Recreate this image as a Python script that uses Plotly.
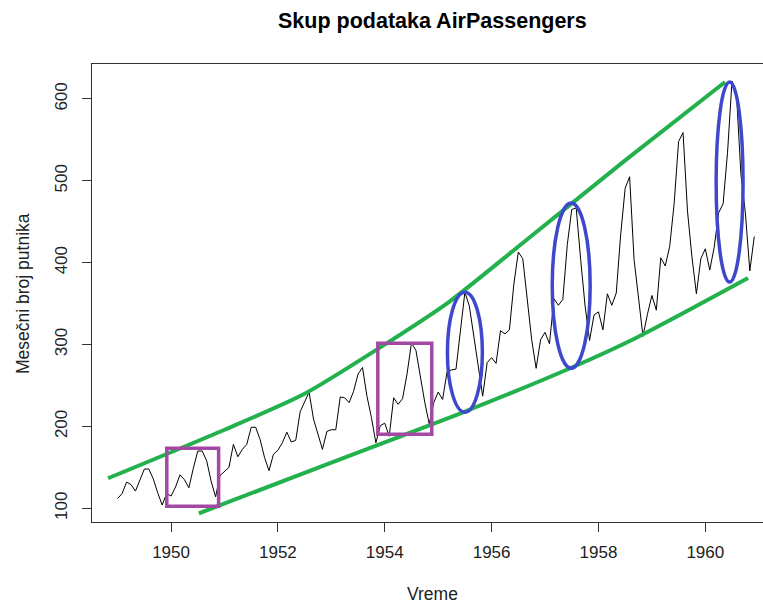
import plotly.graph_objects as go

# Monthly international airline passengers (thousands), 1949-1960
passengers = [
    112, 118, 132, 129, 121, 135, 148, 148, 136, 119, 104, 118,
    115, 126, 141, 135, 125, 149, 170, 170, 158, 133, 114, 140,
    145, 150, 178, 163, 172, 178, 199, 199, 184, 162, 146, 166,
    171, 180, 193, 181, 183, 218, 230, 242, 209, 191, 172, 194,
    196, 196, 236, 235, 229, 243, 264, 272, 237, 211, 180, 201,
    204, 188, 235, 227, 234, 264, 302, 293, 259, 229, 203, 229,
    242, 233, 267, 269, 270, 315, 364, 347, 312, 274, 237, 278,
    284, 277, 317, 313, 318, 374, 413, 405, 355, 306, 271, 306,
    315, 301, 356, 348, 355, 422, 465, 467, 404, 347, 305, 336,
    340, 318, 362, 348, 363, 435, 491, 505, 404, 359, 310, 337,
    360, 342, 406, 396, 420, 472, 548, 559, 463, 407, 362, 405,
    417, 391, 419, 461, 472, 535, 622, 606, 508, 461, 390, 432,
]
start_year = 1949
time = [start_year + i / 12 for i in range(len(passengers))]

# Hand-drawn envelope (trend channel) lines
upper_x = [1948.82, 1951.0, 1952.5, 1953.9, 1955.2, 1956.6, 1958.5, 1960.37]
upper_y = [136.7, 196.0, 240.0, 296.0, 352.0, 425.0, 525.0, 620.8]
lower_x = [1950.52, 1953.0, 1955.42, 1957.47, 1958.73, 1960.8]
lower_y = [93.9, 155.7, 216.1, 271.1, 309.0, 381.2]

# Highlight boxes (x0, x1, y0, y1)
box_x0 = [1949.92, 1953.87]
box_x1 = [1950.89, 1954.88]
box_y0 = [102.4, 190.5]
box_y1 = [173.3, 301.7]

# Highlighted peaks: ellipse centres and half-widths
ell_cx = [1955.50, 1957.49, 1960.455]
ell_cy = [290.7, 372.0, 498.5]
ell_rx = [0.327, 0.355, 0.252]
ell_ry = [73.3, 100.9, 122.2]

x_ticks = [1950, 1952, 1954, 1956, 1958, 1960]
y_ticks = [100, 200, 300, 400, 500, 600]

GREEN = "#22B14C"
PURPLE = "#A349A4"
BLUE = "#3F48CC"
FONT = "Liberation Sans, Arial, sans-serif"

# plot-area geometry in pixels (used to place the free text)
W, H = 763, 606
L, T, B = 92, 64, 84
PW, PH = W - L, H - T - B


def px_x(x):
    return (x - L) / PW


def px_y(y):
    return (H - B - y) / PH


fig = go.Figure()
fig.add_trace(go.Scatter(x=time, y=passengers, mode="lines",
                         line=dict(color="black", width=1)))
for xs, ys in ((upper_x, upper_y), (lower_x, lower_y)):
    fig.add_trace(go.Scatter(x=xs, y=ys, mode="lines",
                             line=dict(color=GREEN, width=4, shape="spline", smoothing=0.7)))

shapes = []
for x0, x1, y0, y1 in zip(box_x0, box_x1, box_y0, box_y1):
    shapes.append(dict(type="rect", xref="x", yref="y", x0=x0, x1=x1, y0=y0, y1=y1,
                       line=dict(color=PURPLE, width=3.5)))
for cx, cy, rx, ry in zip(ell_cx, ell_cy, ell_rx, ell_ry):
    shapes.append(dict(type="circle", xref="x", yref="y",
                       x0=cx - rx, x1=cx + rx, y0=cy - ry, y1=cy + ry,
                       line=dict(color=BLUE, width=3.5)))

fig.update_layout(
    width=W, height=H,
    margin=dict(l=L, r=0, t=T, b=B),
    paper_bgcolor="white", plot_bgcolor="white",
    showlegend=False,
    font=dict(family=FONT, size=17, color="#222"),
    shapes=shapes,
    xaxis=dict(range=[1948.52, 1961.08], tickvals=x_ticks,
               ticktext=[str(v) for v in x_ticks],
               showgrid=False, zeroline=False,
               showline=True, linecolor="#333", linewidth=1, mirror=True,
               ticks="outside", ticklen=9, tickcolor="#333",
               ticklabelstandoff=6),
    yaxis=dict(range=[83.28, 642.72], tickvals=y_ticks,
               ticktext=[str(v) for v in y_ticks],
               showgrid=False, zeroline=False,
               showline=True, linecolor="#333", linewidth=1,
               ticks="outside", ticklen=9, tickcolor="#333",
               tickangle=-90, ticklabelstandoff=8),
    annotations=[
        dict(text="<b>Skup podataka AirPassengers</b>", xref="paper", yref="paper",
             x=px_x(432), y=px_y(21), xanchor="center", yanchor="middle",
             showarrow=False, font=dict(family=FONT, size=21.5, color="black")),
        dict(text="Vreme", xref="paper", yref="paper",
             x=px_x(432.5), y=px_y(606), xanchor="center", yanchor="bottom",
             showarrow=False, font=dict(family=FONT, size=17.5, color="#222")),
        dict(text="Mesečni broj putnika", xref="paper", yref="paper",
             x=px_x(23), y=px_y(294), textangle=-90,
             xanchor="center", yanchor="middle", showarrow=False,
             font=dict(family=FONT, size=17.5, color="#222")),
    ],
)

fig.write_html("out.html")
